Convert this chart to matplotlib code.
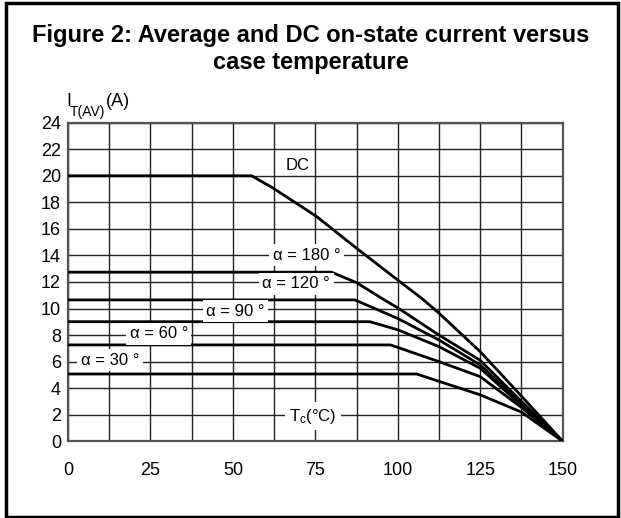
import matplotlib
matplotlib.use('Agg')
import matplotlib.pyplot as plt
from matplotlib.patches import Rectangle
from matplotlib.ticker import MultipleLocator

plt.rcParams['font.family'] = ['Liberation Sans', 'DejaVu Sans']
plt.rcParams['mathtext.fontset'] = 'custom'
plt.rcParams['mathtext.rm'] = 'Liberation Sans'
plt.rcParams['mathtext.it'] = 'Liberation Sans'

# ---- data (case temperature Tc in degC, average current IT(AV) in A) ----
dc_t = [0, 55.7, 62.2, 75.4, 87.5, 100.6, 107.2, 112.5, 125, 137.5, 150]
dc_i = [20, 20, 19.07, 16.93, 14.54, 12.03, 10.78, 9.65, 6.75, 3.4, 0]

a180_t = [0, 79.9, 87.5, 95.6, 100, 112.5, 125, 137.5, 150]
a180_i = [12.74, 12.74, 11.95, 10.7, 10.05, 8.0, 6.1, 3.0, 0]

a120_t = [0, 87.0, 100, 112.5, 125, 137.5, 150]
a120_i = [10.65, 10.65, 9.25, 7.63, 5.75, 2.85, 0]

a90_t = [0, 91.5, 100, 112.5, 125, 137.5, 150]
a90_i = [9.01, 9.01, 8.4, 7.13, 5.5, 2.7, 0]

a60_t = [0, 97.8, 112.5, 125, 137.5, 150]
a60_i = [7.26, 7.26, 6.0, 4.87, 2.55, 0]

a30_t = [0, 105.7, 125, 137.5, 150]
a30_i = [5.07, 5.07, 3.5, 2.2, 0]

x_ticks = [0, 25, 50, 75, 100, 125, 150]
y_ticks = [0, 2, 4, 6, 8, 10, 12, 14, 16, 18, 20, 22, 24]

labels = ["DC", "α = 180 °", "α = 120 °", "α = 90 °", "α = 60 °", "α = 30 °"]
label_t = [69.7, 72.3, 69.2, 50.8, 27.5, 12.7]
label_i = [20.8, 14.0, 11.85, 9.8, 8.1, 6.1]

fig = plt.figure(figsize=(6.21, 5.18), dpi=100)
ax = fig.add_axes([68 / 621, 1 - 441.3 / 518, (562.7 - 68) / 621, (441.3 - 122.7) / 518])

ax.set_xlim(0, 150)
ax.set_ylim(0, 24)
ax.set_xticks(x_ticks)
ax.set_yticks(y_ticks)
ax.xaxis.set_minor_locator(MultipleLocator(12.5))
ax.tick_params(which='both', length=0)
ax.tick_params(axis='x', pad=15, labelsize=13)
ax.tick_params(axis='y', pad=5, labelsize=13)
ax.grid(True, which='both', color='#222222', linewidth=1.0)
ax.set_axisbelow(True)
for s in ax.spines.values():
    s.set_color('#555555')
    s.set_linewidth(1.6)

for t, i in [(dc_t, dc_i), (a180_t, a180_i), (a120_t, a120_i),
             (a90_t, a90_i), (a60_t, a60_i), (a30_t, a30_i)]:
    ax.plot(t, i, color='black', linewidth=2.0, zorder=3)

for k, (txt, x, y) in enumerate(zip(labels, label_t, label_i)):
    if k == 0:
        ax.text(x, y, txt, ha='center', va='center', fontsize=12, zorder=5)
    else:
        ax.text(x, y, txt, ha='center', va='center', fontsize=12, zorder=5,
                bbox=dict(facecolor='white', edgecolor='none', pad=2.5))

ax.text(74.3, 1.9, r'T$_\mathrm{c}$(°C)', ha='center', va='center', fontsize=12, zorder=5,
        bbox=dict(facecolor='white', edgecolor='none', pad=3))

# y-axis title: I with subscript T(AV), then (A)
fig.text(66 / 621, 1 - 106 / 518, 'I', ha='left', va='baseline', fontsize=13)
fig.text(70 / 621, 1 - 116 / 518, 'T(AV)', ha='left', va='baseline', fontsize=10)
fig.text(105.5 / 621, 1 - 106 / 518, '(A)', ha='left', va='baseline', fontsize=13)

fig.text(0.5, 1 - 42 / 518, 'Figure 2: Average and DC on-state current versus',
         ha='center', va='baseline', fontsize=17, fontweight='bold')
fig.text(0.5, 1 - 69 / 518, 'case temperature',
         ha='center', va='baseline', fontsize=17, fontweight='bold')

fig.add_artist(Rectangle((6 / 621, 1 / 518), (618 - 6) / 621, (515 - 1) / 518,
                         transform=fig.transFigure, fill=False, edgecolor='black', linewidth=2.5))

fig.savefig('out.png', dpi=100)
